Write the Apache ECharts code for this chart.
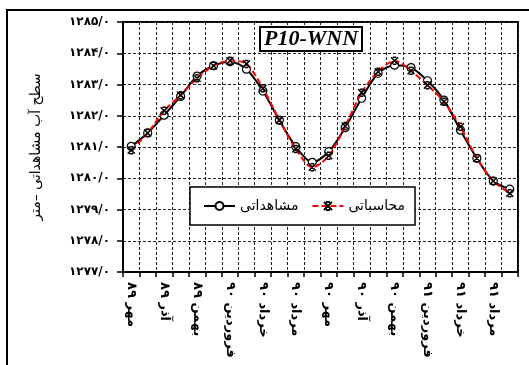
<!DOCTYPE html>
<html>
<head>
<meta charset="utf-8">
<script src="https://cdn.jsdelivr.net/npm/echarts@6/dist/echarts.min.js"></script>
<style>
  html, body { margin: 0; padding: 0; background: #fff; }
  #chart { width: 529px; height: 365px; }
</style>
</head>
<body>
<div id="chart"></div>
<script>
// ماه‌ها از مهر ۸۹ تا شهریور ۹۱
const months = [
  'مهر ۸۹', 'آبان ۸۹', 'آذر ۸۹', 'دی ۸۹', 'بهمن ۸۹', 'اسفند ۸۹',
  'فروردین ۹۰', 'اردیبهشت ۹۰', 'خرداد ۹۰', 'تیر ۹۰', 'مرداد ۹۰', 'شهریور ۹۰',
  'مهر ۹۰', 'آبان ۹۰', 'آذر ۹۰', 'دی ۹۰', 'بهمن ۹۰', 'اسفند ۹۰',
  'فروردین ۹۱', 'اردیبهشت ۹۱', 'خرداد ۹۱', 'تیر ۹۱', 'مرداد ۹۱', 'شهریور ۹۱'
]

const observed = [
  1281.02, 1281.45, 1282.02, 1282.62, 1283.27, 1283.60, 1283.73, 1283.49,
  1282.79, 1281.86, 1281.01, 1280.51, 1280.85, 1281.62, 1282.56, 1283.36,
  1283.62, 1283.54, 1283.12, 1282.50, 1281.54, 1280.64, 1279.91, 1279.65
]

const computed = [
  1280.90, 1281.45, 1282.16, 1282.66, 1283.20, 1283.60, 1283.76, 1283.66,
  1282.88, 1281.86, 1280.94, 1280.35, 1280.72, 1281.67, 1282.74, 1283.41,
  1283.76, 1283.44, 1282.98, 1282.45, 1281.65, 1280.64, 1279.91, 1279.52
]

const seriesNames = ['مشاهداتی', 'محاسباتی']
const yName = 'سطح آب مشاهداتی –متر'
const wellName = 'P10-WNN'

const faDigits = '۰۱۲۳۴۵۶۷۸۹'
const toFa = (s) => String(s).replace(/[0-9]/g, d => faDigits[+d])

const starPath = 'path://M0,0L10,10M10,0L0,10M2.5,0L7.5,0M2.5,10L7.5,10'
const font = "'DejaVu Sans', sans-serif"

const chart = echarts.init(document.getElementById('chart'))

chart.setOption({
  animation: false,
  backgroundColor: '#fff',
  title: {
    text: wellName,
    left: 260,
    top: 27,
    padding: [1, 4],
    backgroundColor: '#fff',
    borderColor: '#000',
    borderWidth: 2,
    textStyle: {
      fontFamily: "'Liberation Serif', serif",
      fontStyle: 'italic',
      fontWeight: 'bold',
      fontSize: 22,
      color: '#000'
    }
  },
  legend: {
    left: 190,
    top: 187,
    padding: [12, 10, 12, 13],
    itemGap: 13,
    itemWidth: 31,
    itemHeight: 10,
    backgroundColor: '#fff',
    borderColor: '#000',
    borderWidth: 1.5,
    data: seriesNames,
    textStyle: { fontFamily: font, fontSize: 14, color: '#000' }
  },
  grid: {
    left: 123, right: 11, top: 22, bottom: 93,
    show: true,
    borderColor: '#000',
    borderWidth: 2
  },
  xAxis: {
    type: 'category',
    data: months,
    boundaryGap: true,
    axisLine: { lineStyle: { color: '#000', width: 2 } },
    axisTick: { show: true, interval: 0, inside: false, length: 5, lineStyle: { color: '#000', width: 1.5 } },
    splitLine: { show: true, interval: 0, lineStyle: { color: '#222', type: [3, 2], width: 1 } },
    axisLabel: {
      interval: 1,
      rotate: -90,
      margin: 10,
      color: '#000',
      fontFamily: font,
      fontWeight: 'bold',
      fontSize: 13
    }
  },
  yAxis: {
    type: 'value',
    min: 1277,
    max: 1285,
    interval: 1,
    name: yName,
    nameLocation: 'middle',
    nameRotate: 90,
    nameGap: 80,
    nameTextStyle: { fontFamily: font, fontSize: 14, color: '#000' },
    axisLine: { show: true, lineStyle: { color: '#000', width: 2 } },
    axisTick: { show: true, inside: false, length: 6, lineStyle: { color: '#000', width: 1.5 } },
    splitLine: { show: true, lineStyle: { color: '#222', type: [3, 2], width: 1 } },
    axisLabel: {
      margin: 13,
      color: '#000',
      fontFamily: font,
      fontWeight: 'bold',
      fontSize: 12,
      formatter: (v) => toFa(v) + '/۰'
    }
  },
  graphic: [{
    type: 'rect',
    shape: { x: 7, y: 10, width: 540, height: 380 },
    style: { fill: 'none', stroke: '#000', lineWidth: 2 },
    silent: true
  }],
  series: [
    {
      name: seriesNames[0],
      type: 'line',
      data: observed,
      smooth: 0.3,
      symbol: 'circle',
      symbolSize: 8,
      lineStyle: { color: '#000', width: 2 },
      itemStyle: { color: '#fff', borderColor: '#000', borderWidth: 1.2 },
      z: 2
    },
    {
      name: seriesNames[1],
      type: 'line',
      data: computed,
      smooth: 0.3,
      symbol: starPath,
      symbolSize: 7,
      lineStyle: { color: '#ff0000', width: 2, type: [6, 3] },
      itemStyle: { color: '#000', borderColor: '#000', borderWidth: 1.5 },
      z: 3
    }
  ]
})
</script>
</body>
</html>
